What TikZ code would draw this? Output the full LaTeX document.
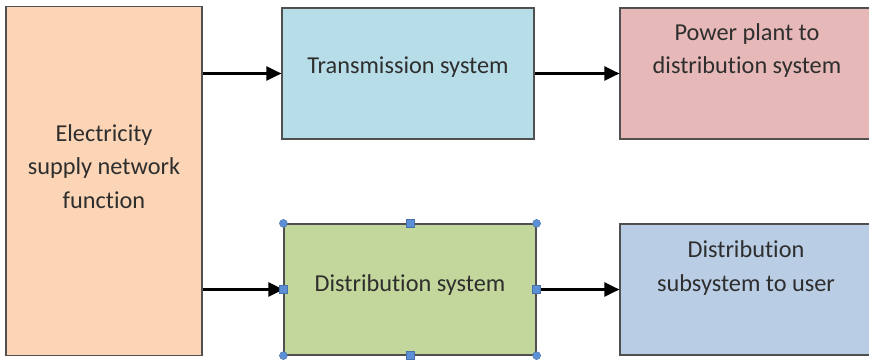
\documentclass[tikz,border=0pt]{standalone}
\usepackage{fontspec}
\setmainfont{Carlito}[Ligatures={NoCommon}]
\usetikzlibrary{arrows.meta,positioning,shapes}
\definecolor{supplyfill}{HTML}{FBD5B5}
\definecolor{transfill}{HTML}{B7DEE8}
\definecolor{plantfill}{HTML}{E6B9B8}
\definecolor{distfill}{HTML}{C3D69B}
\definecolor{userfill}{HTML}{B9CDE5}
\definecolor{boxline}{HTML}{505050}
\definecolor{textgray}{HTML}{2E2E2E}
\definecolor{handleblue}{HTML}{5B8FD6}
\tikzset{
    %Define standard arrow tip
    >={Triangle[length=15pt,width=14pt]},
    %Define style for boxes
    block/.style={
           rectangle,
           draw=boxline, line width=1.2pt,
           minimum width=252pt,
           minimum height=131pt,
           inner sep=0pt},
    boxtext/.style={
           font=\fontsize{24.3}{33.5}\selectfont,
           text=textgray,
           align=center,
           inner sep=0pt},
    % Define arrow style
    pil/.style={
           ->,
           line width=2.3pt},
    % Define selection handles
    handledot/.style={circle, fill=handleblue, draw=handleblue!80!black,
           line width=0.4pt, minimum size=8pt, inner sep=0pt},
    handlesq/.style={rectangle, fill=handleblue, draw=handleblue!80!black,
           line width=0.4pt, minimum size=8pt, inner sep=0pt}
}
\begin{document}
\begin{tikzpicture}[x=1pt,y=-1pt]
\useasboundingbox (0,0) rectangle (869,359);
% boxes
\node[block, fill=supplyfill, minimum width=196pt, minimum height=349pt] (supply) at (104,181) {};
\node[block, fill=transfill] (trans) at (408,73.5) {};
\node[block, fill=plantfill] (plant) at (746,73.5) {};
\node[block, fill=distfill] (dist) at (410,289.5) {};
\node[block, fill=userfill] (user) at (746,289.5) {};
% texts
\node[boxtext] (supply-t) at (104,166.5) {Electricity\\supply network\\function};
\node[boxtext] (trans-t) at (408,67) {Transmission system};
\node[boxtext] (plant-t) at (747,50.5) {Power plant to\\distribution system};
\node[boxtext] (dist-t) at (410,285) {Distribution system};
\node[boxtext] (user-t) at (746,268) {Distribution\\subsystem to user};
% arrows
\draw[pil] (supply.east |- trans.west) -- (trans.west);
\draw[pil] (trans.east) -- (plant.west);
\draw[pil] (supply.east |- dist.west) -- (dist.west);
\draw[pil] (dist.east) -- (user.west);
% selection handles
\foreach \a in {north west,north east,south west,south east}
    \node[handledot] (h-\a) at (dist.\a) {};
\foreach \a in {north,south,east,west}
    \node[handlesq] (h-\a) at (dist.\a) {};
\end{tikzpicture}
\end{document}
